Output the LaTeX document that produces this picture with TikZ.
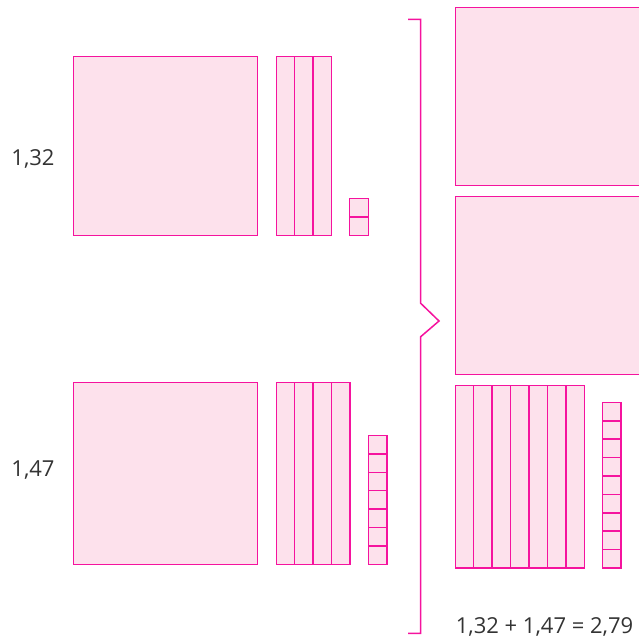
\documentclass[tikz,border=0pt]{standalone}
\usepackage{fontspec}
\setmainfont{Open Sans}
\definecolor{blockline}{HTML}{F5139E}
\definecolor{blockfill}{HTML}{FDE1EC}
\definecolor{numtext}{HTML}{333333}
\usetikzlibrary{positioning}

\begin{document}
\begin{tikzpicture}[x=1bp, y=-1bp,
  block/.style={draw=blockline, fill=blockfill, line width=1.5bp},
  divider/.style={draw=blockline, line width=1.5bp},
  numlabel/.style={text=numtext, font=\fontsize{22bp}{26bp}\selectfont, anchor=base, inner sep=0pt}]
  \useasboundingbox (0,0) rectangle (639,639);
  \clip (0,0) rectangle (639,639);
  % hundreds
  \foreach \x/\y/\b in {73.3/56.3/235.3, 73.3/382.3/564.3, 455.3/7.3/185.3, 455.3/196.3/374.3} {
    \draw[block] (\x,\y) rectangle (\x+184,\b);
  }
  % tenths
  \foreach \x/\y/\b/\n in {276.3/56.3/235.3/3, 276.3/382.3/564.3/4, 455.3/385.3/568/7} {
    \draw[block] (\x,\y) rectangle (\x+18.43*\n,\b);
    \foreach \i in {1,...,\n} {
      \draw[divider] (\x+18.43*\i,\y) -- (\x+18.43*\i,\b);
    }
  }
  % ones
  \foreach \x/\b/\n in {349.7/235.3/2, 368.3/564.3/7, 602.3/568/9} {
    \draw[block] (\x,\b-18.4*\n) rectangle (\x+18.8,\b);
    \foreach \i in {1,...,\n} {
      \draw[divider] (\x,\b-18.4*\i) -- (\x+18.8,\b-18.4*\i);
    }
  }
  % brace
  \draw[blockline, line width=1.5bp] (408,19.3) -- (420.7,19.3) -- (420.7,303.3)
    -- (439,321) -- (420.7,336.7) -- (420.7,633.3) -- (408,633.3);
  \node[numlabel] (first) at (33,166) {1,32};
  \node[numlabel] (second) at (33,476) {1,47};
  \node[numlabel] (total) at (544.5,633.3) {1,32 + 1,47 = 2,79};
\end{tikzpicture}
\end{document}
